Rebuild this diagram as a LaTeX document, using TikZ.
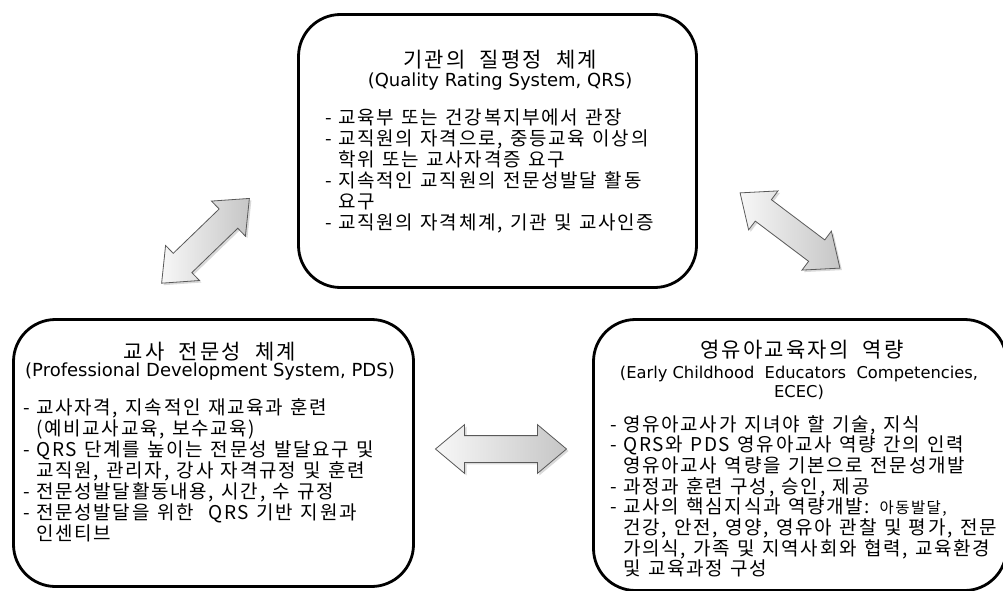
\documentclass[tikz,border=0pt]{standalone}
\usepackage{fontspec}
\newfontfamily\kr[LetterSpace=9,WordSpace=1.25]{Noto Sans CJK KR}
\newfontfamily\krt[LetterSpace=10,WordSpace=2.1]{Noto Sans CJK KR}
\newfontfamily\lat{DejaVu Sans}
\usetikzlibrary{shapes.arrows,shadows}
\newcommand\bl{\makebox[13pt][l]{-}}
\newcommand\ind{\hspace*{13pt}}
\begin{document}
\begin{tikzpicture}[x=1pt,y=-1pt,
  box/.style={draw=black, line width=2.8pt, rounded corners=42pt, inner sep=0pt},
  ttl/.style={font=\krt\fontsize{21}{25}\selectfont, inner sep=0pt},
  sub/.style={font=\lat\fontsize{18}{20}\selectfont, inner sep=0pt, align=center},
  body/.style={font=\kr\fontsize{19}{21}\selectfont, inner sep=0pt, align=left, anchor=north west},
  darrow/.style={double arrow, draw=black!65, line width=0.8pt,
    left color=gray!6, right color=gray!45,
    double arrow head extend=11pt, double arrow tip angle=80,
    minimum width=48pt, inner xsep=0pt, inner ysep=13pt,
    drop shadow={opacity=0.3, shadow xshift=2pt, shadow yshift=-2pt}}
]
\useasboundingbox (0,0) rectangle (1003,591);

% boxes
\node[box, minimum width=398pt, minimum height=273pt] (qrs) at (497.5,151) {};
\node[box, minimum width=400pt, minimum height=267pt] (pds) at (213.5,453) {};
\node[box, minimum width=413pt, minimum height=271pt] (ecec) at (800,455) {};

% top box text
\node[ttl] (qt) at (500,60) {기관의 질평정 체계};
\node[sub] (qs) at (500,82) {(Quality Rating System, QRS)};
\node[body] (qb) at (325,108.5) {\bl 교육부 또는 건강복지부에서 관장\\
\bl 교직원의 자격으로, 중등교육 이상의\\
\ind 학위 또는 교사자격증 요구\\
\bl 지속적인 교직원의 전문성발달 활동\\
\ind 요구\\
\bl 교직원의 자격체계, 기관 및 교사인증};

% left box text
\node[ttl] (pt) at (210,352) {교사 전문성 체계};
\node[sub] (ps) at (210,372) {(Professional Development System, PDS)};
\node[body] (pb) at (23,398.5) {\bl 교사자격, 지속적인 재교육과 훈련\\
\ind (예비교사교육, 보수교육)\\
\bl QRS 단계를 높이는 전문성 발달요구 및\\
\ind 교직원, 관리자, 강사 자격규정 및 훈련\\
\bl 전문성발달활동내용, 시간, 수 규정\\
\bl 전문성발달을 위한\ \ QRS 기반 지원과\\
\ind 인센티브};

% right box text
\node[ttl] (et) at (802,350) {영유아교육자의 역량};
\node[sub, font=\lat\fontsize{16.3}{19}\selectfont] (es) at (799,382.5) {(Early Childhood\ \ Educators\ \ Competencies,\\ECEC)};
\node[body, font=\kr\fontsize{19}{20.7}\selectfont] (eb) at (610,415) {\bl 영유아교사가 지녀야 할 기술, 지식\\
\bl QRS와 PDS 영유아교사 역량 간의 인력\\
\ind 영유아교사 역량을 기본으로 전문성개발\\
\bl 과정과 훈련 구성, 승인, 제공\\
\bl 교사의 핵심지식과 역량개발: {\fontsize{15.5}{20.7}\selectfont 아동발달,}\\
\ind 건강, 안전, 영양, 영유아 관찰 및 평가, 전문\\
\ind 가의식, 가족 및 지역사회와 협력, 교육환경\\
\ind 및 교육과정 구성};

% arrows
\node[darrow, minimum height=131pt] (ah) at (501,449) {};
\node[darrow, minimum height=122pt, rotate=44] (al) at (205.5,240.8) {};
\node[darrow, minimum height=125pt, rotate=-37] (ar) at (790,230.5) {};
\end{tikzpicture}
\end{document}
